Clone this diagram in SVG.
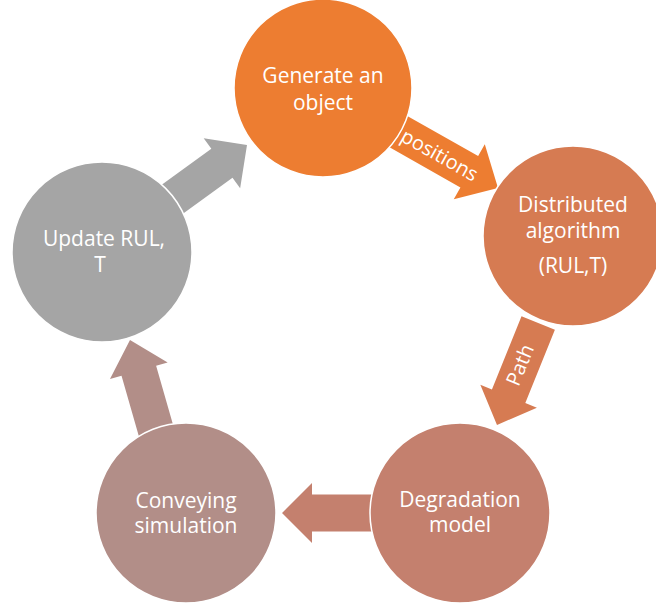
<svg xmlns="http://www.w3.org/2000/svg" width="656" height="609" viewBox="0 0 656 609">
<style>
.lbl{font-family:"Open Sans","Liberation Sans",sans-serif;font-size:21px;fill:#fff;text-anchor:middle}
.alb{font-family:"Open Sans","Liberation Sans",sans-serif;font-size:20px;fill:#fff;text-anchor:middle}
circle{stroke:#fff;stroke-width:1.5}
</style>
<rect width="656" height="609" fill="#fff"/>
<g id="connectors">
<polygon fill="#A5A5A5" points="-100,-18 -31,-18 -31,-31 0,0 -31,31 -31,18 -100,18" transform="translate(247,145) rotate(-36)"/>
<g transform="translate(498,188) rotate(29.5)">
<polygon fill="#ED7D31" points="-120,-18 -33,-18 -33,-31.5 0,0 -33,31.5 -33,18 -120,18"/>
<text class="alb" x="-67" y="7">positions</text>
</g>
<g transform="translate(497,425) rotate(112)">
<polygon fill="#D67B52" points="-110,-18 -31,-18 -31,-30.5 0,0 -31,30.5 -31,18 -110,18"/>
</g>
<text class="alb" transform="translate(520,365) rotate(-68)" y="7">Path</text>
<polygon fill="#C4806E" points="-100,-18.5 -30,-18.5 -30,-30 0,0 -30,30 -30,18.5 -100,18.5" transform="translate(282,513) rotate(180)"/>
<polygon fill="#B28E88" points="-110,-18 -32,-18 -32,-30 0,0 -32,30 -32,18 -110,18" transform="translate(130,340) rotate(-106)"/>
</g>
<g id="n1"><circle cx="323" cy="88" r="89" fill="#ED7D31"/>
<text class="lbl" x="323" y="83">Generate an</text><text class="lbl" x="323" y="110">object</text></g>
<g id="n2"><circle cx="573" cy="236" r="90" fill="#D67B52"/>
<text class="lbl" x="573" y="212">Distributed</text><text class="lbl" x="573" y="238">algorithm</text><text class="lbl" x="573" y="273">(RUL,T)</text></g>
<g id="n3"><circle cx="460" cy="513" r="90" fill="#C4806E"/>
<text class="lbl" x="460" y="507">Degradation</text><text class="lbl" x="460" y="532">model</text></g>
<g id="n4"><circle cx="186" cy="513" r="90" fill="#B28E88"/>
<text class="lbl" x="186" y="508">Conveying</text><text class="lbl" x="186" y="533">simulation</text></g>
<g id="n5"><circle cx="102" cy="252" r="90" fill="#A5A5A5"/>
<text class="lbl" x="104" y="246">Update RUL,</text><text class="lbl" x="100" y="272">T</text></g>
</svg>
